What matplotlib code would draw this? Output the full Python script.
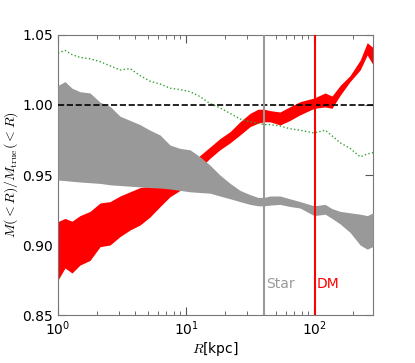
import matplotlib
matplotlib.use("Agg")
import matplotlib.pyplot as plt
import numpy as np

plt.rcParams['mathtext.fontset'] = 'cm'

R = [1.0, 1.134, 1.286, 1.485, 1.778, 2.13, 2.55, 3.05, 3.65, 4.37, 5.23, 6.26, 7.50, 8.98,
     10.75, 12.86, 15.4, 18.4, 22.1, 26.4, 31.6, 36.5, 40.7, 45.3, 54.2, 64.9, 77.8, 100,
     122, 138, 160, 191, 229, 260, 289]

star_hi = [1.014, 1.0167, 1.012, 1.0095, 1.0086, 1.002, 0.999, 0.992, 0.989, 0.986, 0.982, 0.9786,
           0.9714, 0.969, 0.968, 0.963, 0.957, 0.950, 0.944, 0.939, 0.936, 0.934, 0.934, 0.935,
           0.935, 0.933, 0.931, 0.928, 0.929, 0.926, 0.924, 0.923, 0.922, 0.921, 0.923]
star_lo = [0.9464, 0.946, 0.9455, 0.945, 0.9445, 0.944, 0.943, 0.9425, 0.942, 0.9415, 0.941, 0.9407,
           0.940, 0.939, 0.938, 0.9375, 0.937, 0.935, 0.933, 0.931, 0.929, 0.928, 0.928, 0.9285,
           0.929, 0.9275, 0.9264, 0.921, 0.922, 0.919, 0.915, 0.909, 0.900, 0.897, 0.899]

dm_hi = [0.9167, 0.919, 0.917, 0.921, 0.924, 0.930, 0.931, 0.935, 0.938, 0.941, 0.942, 0.945,
         0.948, 0.952, 0.957, 0.964, 0.970, 0.976, 0.981, 0.988, 0.994, 0.997, 0.997, 0.996,
         0.995, 0.9988, 1.0024, 1.005, 1.0086, 1.0064, 1.014, 1.021, 1.032, 1.0445, 1.041]
dm_lo = [0.875, 0.8836, 0.880, 0.8857, 0.889, 0.8988, 0.900, 0.906, 0.9107, 0.9143, 0.920, 0.9274,
         0.9345, 0.939, 0.944, 0.955, 0.962, 0.968, 0.973, 0.9786, 0.9845, 0.987, 0.988, 0.988,
         0.9857, 0.989, 0.993, 0.9976, 0.9986, 0.9976, 1.007, 1.0167, 1.025, 1.0357, 1.0286]

green = [1.037, 1.039, 1.036, 1.034, 1.033, 1.031, 1.028, 1.025, 1.026, 1.021, 1.017, 1.015,
         1.012, 1.011, 1.0095, 1.006, 1.001, 0.998, 0.994, 0.990, 0.988, 0.987, 0.986, 0.986,
         0.985, 0.983, 0.982, 0.980, 0.982, 0.978, 0.973, 0.969, 0.963, 0.965, 0.966]

R_star = 40.9
R_dm = 101.0

fig = plt.figure(figsize=(4.15, 3.63), dpi=100)
ax = fig.add_axes([0.1398, 0.1322, 0.7592, 0.7714])

ax.fill_between(R, dm_lo, dm_hi, color='red', lw=0, zorder=2)
ax.fill_between(R, star_lo, star_hi, color='#999999', lw=0, zorder=3)
ax.plot(R, green, color='#33a033', ls=':', lw=1.0, zorder=4)
ax.axhline(1.0, color='black', ls='--', lw=1.2, zorder=5)
ax.axvline(R_star, color='#999999', lw=1.5, zorder=5)
ax.axvline(R_dm, color='red', lw=1.5, zorder=5)

ax.text(R_star * 1.04, 0.869, 'Star', color='#999999', fontsize=10)
ax.text(R_dm * 1.04, 0.869, 'DM', color='red', fontsize=10)

ax.set_xscale('log')
ax.set_xlim(1, 289)
ax.set_ylim(0.85, 1.05)
ax.set_yticks([0.85, 0.90, 0.95, 1.00, 1.05])
ax.set_yticklabels(['0.85', '0.90', '0.95', '1.00', '1.05'])
ax.tick_params(which='both', direction='in', top=True, right=True, labelsize=10, color='#555555')
ax.tick_params(which='major', length=6)
ax.tick_params(which='minor', length=3)
for s in ax.spines.values():
    s.set_color('#777777')

ax.set_xlabel(r'$R$[kpc]', fontsize=10, labelpad=1)
ax.set_ylabel(r'$M(<R)/M_{\rm true}(<R)$', fontsize=10, labelpad=2)

fig.savefig('out.png', dpi=100)
